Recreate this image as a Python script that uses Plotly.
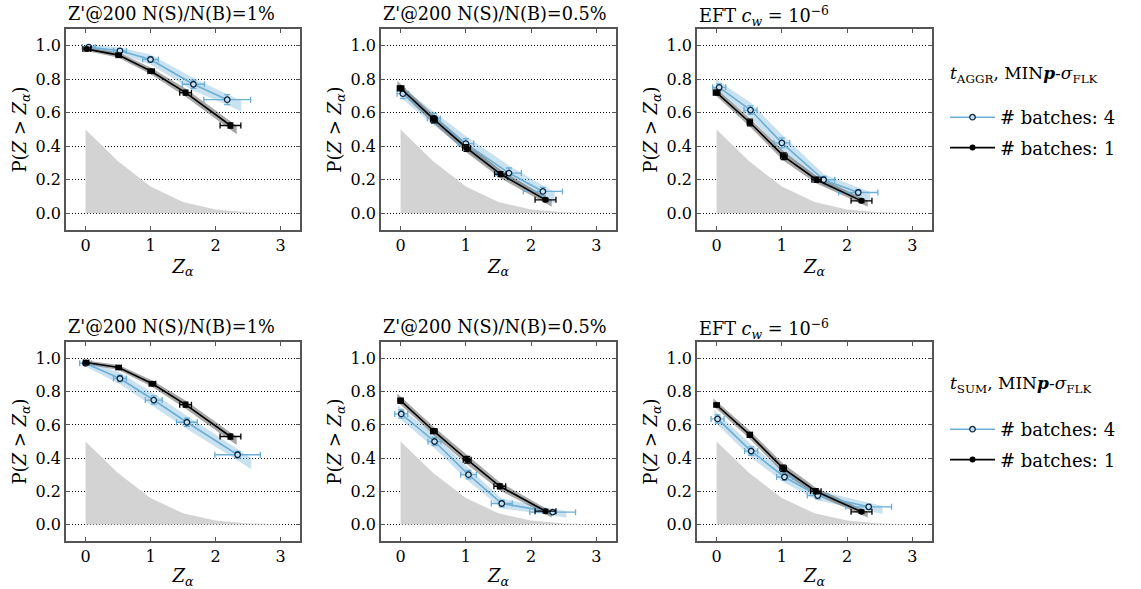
import plotly.graph_objects as go

# ---------------- data ----------------
z_bg = [0, 0.5, 1.0, 1.5, 2.0, 2.5, 3.0]
p_bg = [0.5, 0.31, 0.16, 0.067, 0.023, 0.006, 0.001]

titles = ["Z'@200 N(S)/N(B)=1%", "Z'@200 N(S)/N(B)=0.5%",
          "EFT <i>c</i><sub><i>w</i></sub> = 10<sup>−6</sup>"]
legend_titles = ["<i>t</i><sub>AGGR</sub>, MIN<b><i>p</i></b>-<i>σ</i><sub>FLK</sub>",
                 "<i>t</i><sub>SUM</sub>, MIN<b><i>p</i></b>-<i>σ</i><sub>FLK</sub>"]
series_names = ["# batches: 4", "# batches: 1"]

# top row (t_AGGR)
aggr_1pct_b4_x = [0.05, 0.53, 1.00, 1.66, 2.18]
aggr_1pct_b4_y = [0.992, 0.970, 0.918, 0.770, 0.678]
aggr_1pct_b4_ex = [0.10, 0.10, 0.12, 0.17, 0.36]
aggr_1pct_b4_ey = [0.010, 0.012, 0.015, 0.025, 0.030]
aggr_1pct_b4_band = [0.015, 0.02, 0.03, 0.038, 0.032]
aggr_1pct_b1_x = [0.02, 0.51, 1.01, 1.54, 2.23]
aggr_1pct_b1_y = [0.980, 0.944, 0.848, 0.720, 0.524]
aggr_1pct_b1_ex = [0.06, 0.04, 0.05, 0.09, 0.16]
aggr_1pct_b1_ey = [0.010, 0.010, 0.012, 0.015, 0.015]
aggr_1pct_b1_band = [0.012, 0.015, 0.02, 0.025, 0.025]

aggr_05pct_b4_x = [0.035, 0.51, 1.00, 1.66, 2.18]
aggr_05pct_b4_y = [0.714, 0.566, 0.416, 0.240, 0.130]
aggr_05pct_b4_ex = [0.09, 0.10, 0.12, 0.19, 0.30]
aggr_05pct_b4_ey = [0.030, 0.030, 0.030, 0.030, 0.025]
aggr_05pct_b4_band = [0.035, 0.04, 0.045, 0.045, 0.035]
aggr_05pct_b1_x = [0.00, 0.51, 1.01, 1.53, 2.22]
aggr_05pct_b1_y = [0.746, 0.560, 0.390, 0.234, 0.080]
aggr_05pct_b1_ex = [0.05, 0.05, 0.06, 0.09, 0.16]
aggr_05pct_b1_ey = [0.015, 0.020, 0.020, 0.015, 0.010]
aggr_05pct_b1_band = [0.025, 0.025, 0.028, 0.025, 0.02]

aggr_eft_b4_x = [0.04, 0.52, 1.00, 1.64, 2.17]
aggr_eft_b4_y = [0.752, 0.616, 0.420, 0.200, 0.124]
aggr_eft_b4_ex = [0.10, 0.10, 0.12, 0.17, 0.30]
aggr_eft_b4_ey = [0.020, 0.025, 0.030, 0.020, 0.015]
aggr_eft_b4_band = [0.035, 0.045, 0.05, 0.035, 0.03]
aggr_eft_b1_x = [0.00, 0.51, 1.03, 1.53, 2.22]
aggr_eft_b1_y = [0.720, 0.542, 0.340, 0.200, 0.074]
aggr_eft_b1_ex = [0.05, 0.04, 0.05, 0.07, 0.16]
aggr_eft_b1_ey = [0.015, 0.020, 0.020, 0.015, 0.010]
aggr_eft_b1_band = [0.022, 0.025, 0.028, 0.022, 0.018]

# bottom row (t_SUM)
sum_1pct_b4_x = [0.00, 0.53, 1.05, 1.56, 2.34]
sum_1pct_b4_y = [0.972, 0.880, 0.750, 0.616, 0.420]
sum_1pct_b4_ex = [0.09, 0.10, 0.13, 0.16, 0.35]
sum_1pct_b4_ey = [0.010, 0.020, 0.025, 0.025, 0.020]
sum_1pct_b4_band = [0.02, 0.035, 0.04, 0.04, 0.035]
sum_1pct_b1_x = [0.01, 0.51, 1.03, 1.54, 2.23]
sum_1pct_b1_y = [0.976, 0.946, 0.848, 0.722, 0.530]
sum_1pct_b1_ex = [0.04, 0.04, 0.05, 0.09, 0.16]
sum_1pct_b1_ey = [0.010, 0.010, 0.012, 0.015, 0.015]
sum_1pct_b1_band = [0.012, 0.015, 0.02, 0.025, 0.025]

sum_05pct_b4_x = [0.01, 0.52, 1.04, 1.55, 2.33]
sum_05pct_b4_y = [0.666, 0.500, 0.300, 0.126, 0.074]
sum_05pct_b4_ex = [0.10, 0.10, 0.12, 0.16, 0.35]
sum_05pct_b4_ey = [0.025, 0.025, 0.025, 0.020, 0.010]
sum_05pct_b4_band = [0.035, 0.04, 0.04, 0.03, 0.02]
sum_05pct_b1_x = [0.00, 0.51, 1.02, 1.52, 2.22]
sum_05pct_b1_y = [0.746, 0.562, 0.390, 0.230, 0.080]
sum_05pct_b1_ex = [0.04, 0.05, 0.06, 0.09, 0.16]
sum_05pct_b1_ey = [0.015, 0.015, 0.020, 0.015, 0.010]
sum_05pct_b1_band = [0.025, 0.025, 0.028, 0.025, 0.018]

sum_eft_b4_x = [0.015, 0.53, 1.04, 1.55, 2.33]
sum_eft_b4_y = [0.636, 0.442, 0.286, 0.174, 0.106]
sum_eft_b4_ex = [0.10, 0.10, 0.12, 0.16, 0.35]
sum_eft_b4_ey = [0.025, 0.025, 0.020, 0.020, 0.015]
sum_eft_b4_band = [0.035, 0.04, 0.035, 0.03, 0.025]
sum_eft_b1_x = [0.00, 0.51, 1.02, 1.52, 2.22]
sum_eft_b1_y = [0.720, 0.540, 0.338, 0.200, 0.076]
sum_eft_b1_ex = [0.04, 0.04, 0.05, 0.08, 0.16]
sum_eft_b1_ey = [0.010, 0.015, 0.020, 0.015, 0.010]
sum_eft_b1_band = [0.022, 0.025, 0.028, 0.022, 0.018]

panels = [
    [(aggr_1pct_b4_x, aggr_1pct_b4_y, aggr_1pct_b4_ex, aggr_1pct_b4_ey, aggr_1pct_b4_band),
     (aggr_1pct_b1_x, aggr_1pct_b1_y, aggr_1pct_b1_ex, aggr_1pct_b1_ey, aggr_1pct_b1_band)],
    [(aggr_05pct_b4_x, aggr_05pct_b4_y, aggr_05pct_b4_ex, aggr_05pct_b4_ey, aggr_05pct_b4_band),
     (aggr_05pct_b1_x, aggr_05pct_b1_y, aggr_05pct_b1_ex, aggr_05pct_b1_ey, aggr_05pct_b1_band)],
    [(aggr_eft_b4_x, aggr_eft_b4_y, aggr_eft_b4_ex, aggr_eft_b4_ey, aggr_eft_b4_band),
     (aggr_eft_b1_x, aggr_eft_b1_y, aggr_eft_b1_ex, aggr_eft_b1_ey, aggr_eft_b1_band)],
    [(sum_1pct_b4_x, sum_1pct_b4_y, sum_1pct_b4_ex, sum_1pct_b4_ey, sum_1pct_b4_band),
     (sum_1pct_b1_x, sum_1pct_b1_y, sum_1pct_b1_ex, sum_1pct_b1_ey, sum_1pct_b1_band)],
    [(sum_05pct_b4_x, sum_05pct_b4_y, sum_05pct_b4_ex, sum_05pct_b4_ey, sum_05pct_b4_band),
     (sum_05pct_b1_x, sum_05pct_b1_y, sum_05pct_b1_ex, sum_05pct_b1_ey, sum_05pct_b1_band)],
    [(sum_eft_b4_x, sum_eft_b4_y, sum_eft_b4_ex, sum_eft_b4_ey, sum_eft_b4_band),
     (sum_eft_b1_x, sum_eft_b1_y, sum_eft_b1_ex, sum_eft_b1_ey, sum_eft_b1_band)],
]

x_ticks = [0, 1, 2, 3]
y_ticks = [0.0, 0.2, 0.4, 0.6, 0.8, 1.0]

# ---------------- style ----------------
W, H = 1141, 589
FONT = "DejaVu Serif"
BLUE = "rgb(107,174,214)"
BLUE_BAND = "rgba(107,174,214,0.36)"
BLACK = "black"
BLACK_BAND = "rgba(60,60,60,0.45)"
BG = "rgb(211,211,211)"
FRAME = "#555555"

col_px = [(66, 300), (381, 616), (697, 932)]
row_px = [(29, 230), (342, 541)]
title_dy = [3, 3, -2]   # pixel offsets above the frame for each column's title

fig = go.Figure()


def band_polygon(x, y, ex, hw):
    # extend band slightly before first and after last point along the curve
    x0 = x[0] - 0.05
    s0 = (y[1] - y[0]) / (x[1] - x[0])
    y0 = y[0] + s0 * (x0 - x[0])
    x1 = x[-1] + 0.6 * ex[-1]
    s1 = (y[-1] - y[-2]) / (x[-1] - x[-2])
    y1 = y[-1] + s1 * (x1 - x[-1])
    xs = [x0] + list(x) + [x1]
    ys = [y0] + list(y) + [y1]
    hws = [hw[0]] + list(hw) + [hw[-1]]
    up = [a + b for a, b in zip(ys, hws)]
    lo = [a - b for a, b in zip(ys, hws)]
    return xs + xs[::-1], up + lo[::-1]


for i, pdata in enumerate(panels):
    r, c = divmod(i, 3)
    n = i + 1
    xa = "x" if n == 1 else f"x{n}"
    ya = "y" if n == 1 else f"y{n}"
    leg = "legend" if r == 0 else "legend2"
    # background gaussian tail
    fig.add_trace(go.Scatter(x=z_bg, y=p_bg, fill="tozeroy", mode="none",
                             fillcolor=BG, xaxis=xa, yaxis=ya, showlegend=False,
                             hoverinfo="skip"))
    # bands
    for k, (sx, sy, sex, sey, sb) in enumerate(pdata):
        px, py = band_polygon(sx, sy, sex, sb)
        fig.add_trace(go.Scatter(x=px, y=py, fill="toself", mode="none",
                                 fillcolor=BLUE_BAND if k == 0 else BLACK_BAND,
                                 xaxis=xa, yaxis=ya, showlegend=False, hoverinfo="skip"))
    # series
    for k, (sx, sy, sex, sey, sb) in enumerate(pdata):
        color = BLUE if k == 0 else BLACK
        marker = (dict(symbol="circle", size=5.5, color="rgba(200,225,240,1)",
                       line=dict(color="#0a2540", width=1.3)) if k == 0 else
                  dict(symbol="circle", size=6, color="black", line=dict(color="black", width=0)))
        fig.add_trace(go.Scatter(
            x=sx, y=sy, mode="lines+markers", name=series_names[k],
            line=dict(color=color, width=1.6), marker=marker,
            error_x=dict(type="data", array=sex, color=color, thickness=1.3, width=3),
            error_y=dict(type="data", array=sey, color=color, thickness=1.3, width=3),
            xaxis=xa, yaxis=ya, legend=leg, legendgroup=f"{leg}_{k}",
            showlegend=(c == 0)))

layout = dict(width=W, height=H, margin=dict(l=0, r=0, t=0, b=0),
              plot_bgcolor="white", paper_bgcolor="white",
              font=dict(family=FONT, size=16, color="black"), annotations=[])

for i in range(6):
    r, c = divmod(i, 3)
    n = i + 1
    xk = "xaxis" if n == 1 else f"xaxis{n}"
    yk = "yaxis" if n == 1 else f"yaxis{n}"
    xdom = [col_px[c][0] / W, col_px[c][1] / W]
    ydom = [1 - row_px[r][1] / H, 1 - row_px[r][0] / H]
    common = dict(showline=True, mirror="ticks", linecolor=FRAME, linewidth=1.5,
                  ticks="inside", ticklen=4, tickcolor=FRAME, zeroline=False,
                  tickfont=dict(family=FONT, size=16, color="black"))
    layout[xk] = dict(domain=xdom, range=[-0.3, 3.3], tickvals=x_ticks,
                      showgrid=False, anchor="y" if n == 1 else f"y{n}",
                      title=dict(text="<i>Z</i><sub><i>α</i></sub>",
                                 font=dict(family=FONT, size=18), standoff=6), **common)
    layout[yk] = dict(domain=ydom, range=[-0.1, 1.1], tickvals=y_ticks, tickformat=".1f",
                      showgrid=True, gridcolor="black", griddash="1px,2px", gridwidth=1,
                      anchor="x" if n == 1 else f"x{n}",
                      title=dict(text="P(<i>Z</i> &gt; <i>Z</i><sub><i>α</i></sub>)",
                                 font=dict(family=FONT, size=18), standoff=4), **common)
    layout["annotations"].append(dict(
        text=titles[c], xref="paper", yref="paper", x=xdom[0], y=ydom[1] + title_dy[c] / H,
        xanchor="left", yanchor="bottom", showarrow=False,
        font=dict(family=FONT, size=17.7, color="black")))

for r in range(2):
    layout["annotations"].append(dict(
        text=legend_titles[r], xref="paper", yref="paper", x=948 / W,
        y=1 - (75 + r * 310) / H, xanchor="left", yanchor="middle", showarrow=False,
        font=dict(family=FONT, size=17, color="black")))

leg_common = dict(xanchor="left", yanchor="top", bgcolor="rgba(0,0,0,0)",
                  font=dict(family=FONT, size=18, color="black"), itemwidth=45,
                  tracegroupgap=4)
layout["legend"] = dict(x=945 / W, y=1 - 99 / H, **leg_common)
layout["legend2"] = dict(x=945 / W, y=1 - 411 / H, **leg_common)

fig.update_layout(**layout)
fig.write_html("out.html", config={"displayModeBar": False},
               post_script="document.body.style.margin='0px';")
